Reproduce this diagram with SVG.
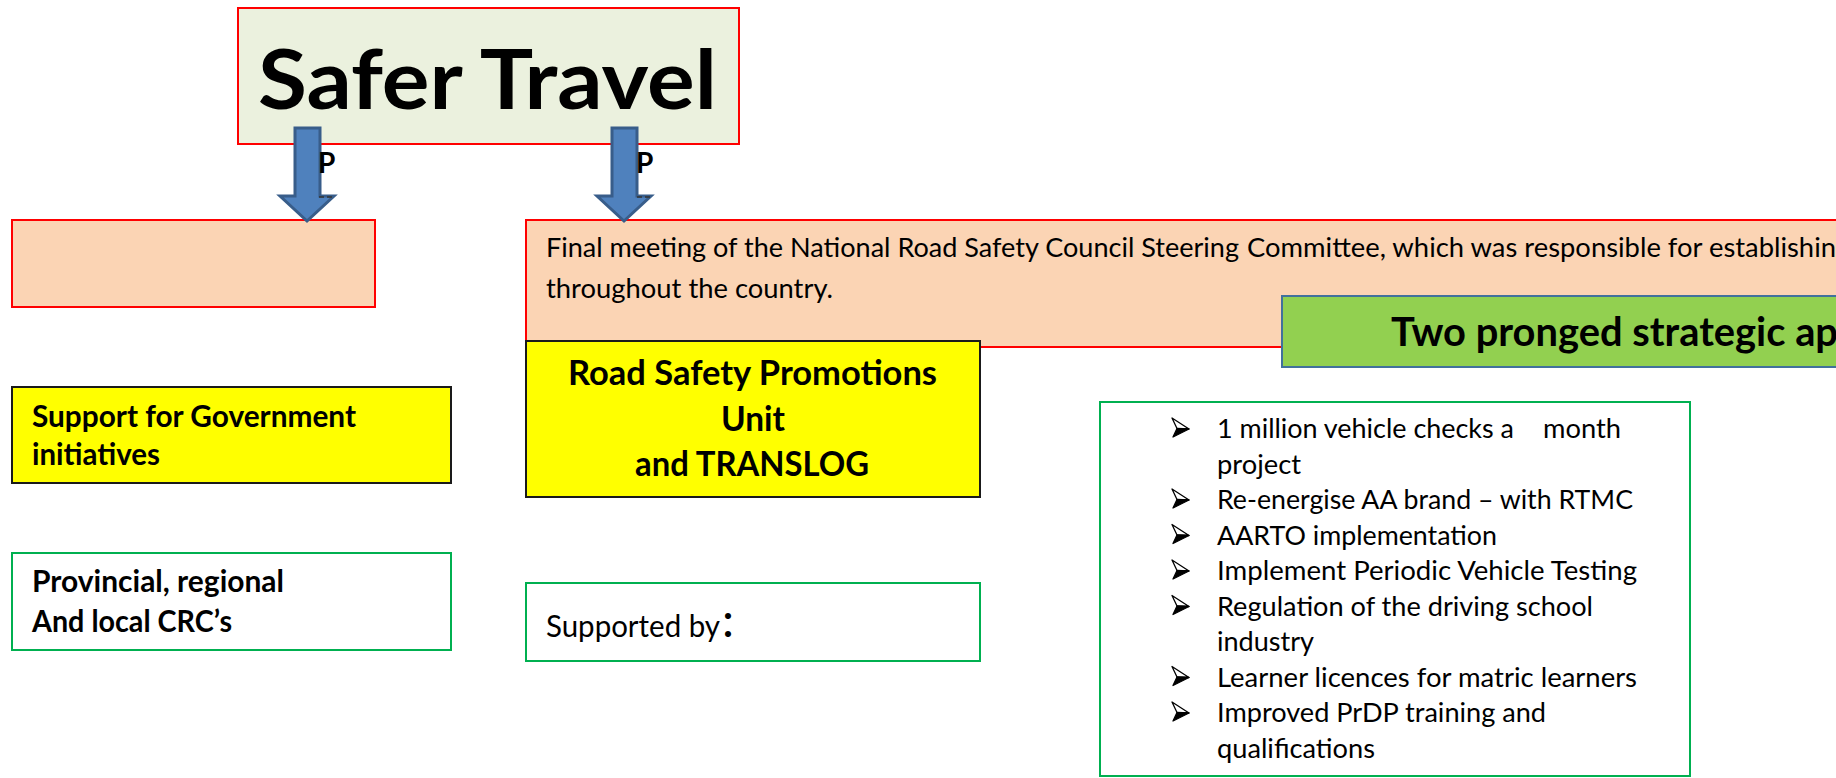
<svg xmlns="http://www.w3.org/2000/svg" xmlns:xlink="http://www.w3.org/1999/xlink" width="1836" height="778" viewBox="0 0 1836 778">
  <style>
    text { font-family: Lato, "Liberation Sans", sans-serif; fill: #000; }
    .b { font-weight: 700; }
    .peach { fill: #FBD4B4; stroke: #FF0000; stroke-width: 2; }
    .yellow { fill: #FFFF00; stroke: #1A1A1A; stroke-width: 2; }
    .outline { fill: #FFFFFF; stroke: #00B050; stroke-width: 2; }
    .arrow { fill: #4F81BD; stroke: #385D8A; stroke-width: 3; stroke-linejoin: miter; }
    .body { font-size: 27.5px; }
  </style>

  <defs>
    <!-- 3-D arrowhead list bullet: light upper facet, dark lower facet -->
    <g id="bullet">
      <polygon points="0,0 17,11 5,10.5" fill="#FFFFFF" stroke="#000" stroke-width="1.3" stroke-linejoin="round"/>
      <polygon points="5,10.5 17,11 1,19" fill="#000" stroke="#000" stroke-width="1.3" stroke-linejoin="round"/>
    </g>
  </defs>

  <rect width="1836" height="778" fill="#FFFFFF"/>

  <!-- title -->
  <g id="safer-travel">
    <rect x="238" y="8" width="501" height="136" fill="#EBF1DE" stroke="#FF0000" stroke-width="2"/>
    <text class="b" x="258" y="109" font-size="83" textLength="459" lengthAdjust="spacingAndGlyphs">Safer Travel</text>
  </g>

  <!-- left column -->
  <g id="left-blank">
    <rect class="peach" x="12" y="220" width="363" height="87"/>
  </g>

  <g id="support-government">
    <rect class="yellow" x="12" y="387" width="439" height="96"/>
    <text class="b" x="32" y="427" font-size="30" textLength="324" lengthAdjust="spacingAndGlyphs">Support for Government</text>
    <text class="b" x="32" y="465" font-size="30" textLength="128" lengthAdjust="spacingAndGlyphs">initiatives</text>
  </g>

  <g id="provincial-crcs">
    <rect class="outline" x="12" y="553" width="439" height="97"/>
    <text class="b" x="32" y="592" font-size="30" textLength="252" lengthAdjust="spacingAndGlyphs">Provincial, regional</text>
    <text class="b" x="32" y="632" font-size="30" textLength="200" lengthAdjust="spacingAndGlyphs">And local CRC’s</text>
  </g>

  <!-- centre column -->
  <g id="steering-committee">
    <rect class="peach" x="526" y="220" width="1330" height="127"/>
    <text class="body" x="546" y="257" textLength="693" lengthAdjust="spacingAndGlyphs">Final meeting of the National Road Safety Council Steering</text>
    <text class="body" x="1247" y="257" textLength="589" lengthAdjust="spacingAndGlyphs">Committee, which was responsible for establishin</text>
    <text class="body" x="546" y="298" textLength="287" lengthAdjust="spacingAndGlyphs">throughout the country.</text>
  </g>

  <g id="promotions-unit">
    <rect class="yellow" x="526" y="341" width="454" height="156"/>
    <text class="b" x="568" y="385" font-size="34" textLength="369" lengthAdjust="spacingAndGlyphs">Road Safety Promotions</text>
    <text class="b" x="721" y="431" font-size="34" textLength="64" lengthAdjust="spacingAndGlyphs">Unit</text>
    <text class="b" x="635" y="476" font-size="34" textLength="234" lengthAdjust="spacingAndGlyphs">and TRANSLOG</text>
  </g>

  <g id="supported-by">
    <rect class="outline" x="526" y="583" width="454" height="78"/>
    <text x="546" y="637" font-size="30" textLength="174" lengthAdjust="spacingAndGlyphs">Supported by</text>
    <text x="722" y="637" font-size="48">:</text>
  </g>

  <!-- right column -->
  <g id="two-pronged">
    <rect x="1282" y="296" width="580" height="71" fill="#92D050" stroke="#41719C" stroke-width="2"/>
    <text class="b" x="1391" y="346" font-size="39.5" textLength="447" lengthAdjust="spacingAndGlyphs">Two pronged strategic ap</text>
  </g>

  <g id="projects">
    <rect class="outline" x="1100" y="402" width="590" height="374"/>
    <use xlink:href="#bullet" href="#bullet" x="1172" y="418"/>
    <use xlink:href="#bullet" href="#bullet" x="1172" y="489"/>
    <use xlink:href="#bullet" href="#bullet" x="1172" y="524.5"/>
    <use xlink:href="#bullet" href="#bullet" x="1172" y="560"/>
    <use xlink:href="#bullet" href="#bullet" x="1172" y="595.5"/>
    <use xlink:href="#bullet" href="#bullet" x="1172" y="666.5"/>
    <use xlink:href="#bullet" href="#bullet" x="1172" y="702"/>
    <text class="body" x="1217" y="438" textLength="297" lengthAdjust="spacingAndGlyphs">1 million vehicle checks a</text>
    <text class="body" x="1543" y="438" textLength="78" lengthAdjust="spacingAndGlyphs">month</text>
    <text class="body" x="1217" y="473.5" textLength="84" lengthAdjust="spacingAndGlyphs">project</text>
    <text class="body" x="1217" y="509" textLength="416" lengthAdjust="spacingAndGlyphs">Re-energise AA brand – with RTMC</text>
    <text class="body" x="1217" y="544.5" textLength="280" lengthAdjust="spacingAndGlyphs">AARTO implementation</text>
    <text class="body" x="1217" y="580" textLength="420" lengthAdjust="spacingAndGlyphs">Implement Periodic Vehicle Testing</text>
    <text class="body" x="1217" y="615.5" textLength="376" lengthAdjust="spacingAndGlyphs">Regulation of the driving school</text>
    <text class="body" x="1217" y="651" textLength="97" lengthAdjust="spacingAndGlyphs">industry</text>
    <text class="body" x="1217" y="686.5" textLength="420" lengthAdjust="spacingAndGlyphs">Learner licences for matric learners</text>
    <text class="body" x="1217" y="722" textLength="329" lengthAdjust="spacingAndGlyphs">Improved PrDP training and</text>
    <text class="body" x="1217" y="757.5" textLength="158" lengthAdjust="spacingAndGlyphs">qualifications</text>
  </g>

  <!-- block arrows from the title -->
  <g id="connectors">
    <path class="arrow" d="M295,128 H320 V196 H334 L307,221 L280,196 H295 Z"/>
    <path class="arrow" d="M612,128 H637 V196 H651 L624,221 L597,196 H612 Z"/>
    <text class="b" x="318" y="173" font-size="28">P</text>
    <text class="b" x="636" y="173" font-size="28">P</text>
    <path d="M319,197 h5 M327,197 h5 M637,197 h5 M645,197 h5" stroke="#333" stroke-width="1.5"/>
  </g>
</svg>
